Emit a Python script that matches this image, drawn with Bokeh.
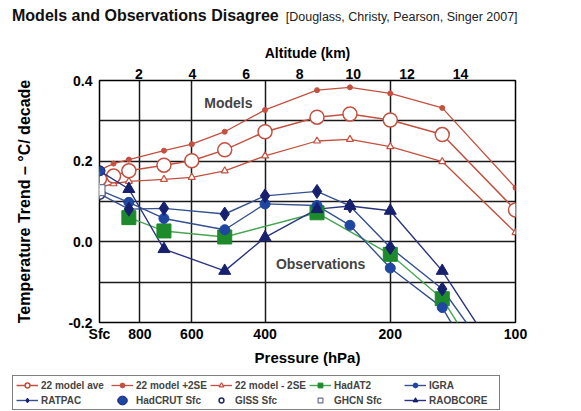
from bokeh.plotting import figure
from bokeh.layouts import column, row
from bokeh.models import (Range1d, LinearAxis, FixedTicker, Label, Legend, LegendItem,
                          LinearScale, NumeralTickFormatter, Div)
from bokeh.embed import file_html
from bokeh.resources import INLINE

# ---------------- data ----------------
# Pressure levels (hPa); the surface value is drawn at the 1000 hPa position ("Sfc")
model_p = [1000, 925, 850, 700, 600, 500, 400, 300, 250, 200, 150, 100]
model_ave = [0.156, 0.163, 0.176, 0.190, 0.201, 0.228, 0.273, 0.309, 0.317, 0.302, 0.266, 0.079]
model_hi = [0.178, 0.194, 0.204, 0.226, 0.242, 0.273, 0.327, 0.376, 0.383, 0.368, 0.332, 0.134]
model_lo = [0.135, 0.144, 0.150, 0.155, 0.160, 0.176, 0.213, 0.250, 0.254, 0.236, 0.199, 0.023]

hadat2_p = [850, 700, 500, 300, 200, 150, 100]
hadat2 = [0.060, 0.027, 0.012, 0.072, -0.031, -0.141, -0.43]

sonde_p = [1000, 850, 700, 500, 400, 300, 250, 200, 150, 100]
igra = [0.128, 0.098, 0.058, 0.030, 0.094, 0.090, 0.041, -0.065, -0.163, -0.47]
ratpac = [0.119, 0.081, 0.083, 0.069, 0.114, 0.125, 0.089, -0.014, -0.117, -0.37]
raobcore = [0.176, 0.131, -0.018, -0.072, 0.011, 0.081, 0.089, 0.077, -0.072, -0.35]

sfc_p = [1000]
hadcrut_sfc = [0.176]
giss_sfc = [0.119]
ghcn_sfc = [0.128]

pressure_ticks = [1000, 800, 600, 400, 200, 100]
pressure_labels = ["Sfc", "800", "600", "400", "200", "100"]
pressure_grid = [800, 600, 400, 200]
altitude_ticks = [2, 4, 6, 8, 10, 12, 14]
trend_ticks = [-0.2, 0.0, 0.2, 0.4]
trend_grid = [-0.1, 0.0, 0.1, 0.2, 0.3]

series_names = ["22 model ave", "22 model +2SE", "22 model - 2SE", "HadAT2", "IGRA",
                "RATPAC", "HadCRUT Sfc", "GISS Sfc", "GHCN Sfc", "RAOBCORE"]

title_text = "Models and Observations Disagree"
subtitle_text = "[Douglass, Christy, Pearson, Singer 2007]"

# ---------------- styles ----------------
FONT = "Liberation Sans"
RED = "#c4503f"
NAVY = "#16206e"
BLUE = "#1f46a0"
OBS_LINE = "#34508e"
RAOB_LINE = "#2a3480"
GREEN = "#1d8a2c"
GREEN_LINE = "#46a552"

W = 565
TITLE_H = 28
MAIN_H = 340
LEG_H = 43

header = Div(
    text=(f'<div style="font-family:\'{FONT}\';white-space:nowrap;padding:7px 0 0 12px;line-height:18px;">'
          f'<span style="font-weight:bold;font-size:16px;color:#111">{title_text}</span>'
          f'<span style="font-size:12.5px;color:#222;margin-left:7px">{subtitle_text}</span></div>'),
    width=W, height=TITLE_H, margin=(0, 0, 0, 0))

p = figure(width=W, height=MAIN_H, x_axis_type="log",
           x_range=Range1d(1000, 100), y_range=Range1d(-0.2, 0.4),
           output_backend="svg", toolbar_location=None,
           min_border_left=99, min_border_right=50, min_border_top=80 - TITLE_H, min_border_bottom=46,
           margin=(0, 0, 0, 0))
p.background_fill_color = "white"
p.border_fill_color = "white"
p.outline_line_color = "black"
p.outline_line_width = 1.5

# bottom pressure axis
xb = p.below[0]
xb.ticker = FixedTicker(ticks=pressure_ticks, minor_ticks=[])
xb.major_label_overrides = dict(zip(pressure_ticks, pressure_labels))
xb.axis_label = "Pressure (hPa)"

# left axis
yl = p.left[0]
yl.ticker = FixedTicker(ticks=trend_ticks, minor_ticks=[])
yl.formatter = NumeralTickFormatter(format="0.0")
yl.axis_label = "Temperature Trend – °C/ decade"

# top altitude axis
p.extra_x_ranges = {"alt": Range1d(0.53, 16.05)}
p.extra_x_scales = {"alt": LinearScale()}
xt = LinearAxis(x_range_name="alt", ticker=FixedTicker(ticks=altitude_ticks, minor_ticks=[]),
                axis_label="Altitude (km)")
p.add_layout(xt, "above")

for ax in (xb, yl, xt):
    ax.axis_line_color = None
    ax.major_tick_line_color = None
    ax.minor_tick_line_color = None
    ax.major_tick_out = 0
    ax.major_tick_in = 0
    ax.minor_tick_out = 0
    ax.minor_tick_in = 0
    ax.major_label_text_font = FONT
    ax.major_label_text_font_style = "bold"
    ax.major_label_text_font_size = "14px"
    ax.major_label_text_color = "black"
    ax.axis_label_text_font = FONT
    ax.axis_label_text_font_style = "bold"
    ax.axis_label_text_color = "black"

xb.major_label_standoff = 3
xb.axis_label_standoff = 4
xb.axis_label_text_font_size = "15px"
xt.major_label_standoff = 2
xt.axis_label_standoff = 5
xt.axis_label_text_font_size = "14px"
yl.major_label_standoff = 7
yl.axis_label_standoff = 32
yl.axis_label_text_font_size = "16px"

p.xgrid.ticker = FixedTicker(ticks=pressure_grid)
p.ygrid.ticker = FixedTicker(ticks=trend_grid)
for g in (p.xgrid, p.ygrid):
    g.grid_line_color = "#1a1a1a"
    g.grid_line_width = 1.5

# style table for each series: (line kwargs or None, marker kwargs or None)
styles = {
    "22 model ave": (dict(line_color=RED, line_width=1.5),
                     dict(marker="circle", size=14, fill_color="white", line_color=RED, line_width=1.5)),
    "22 model +2SE": (dict(line_color=RED, line_width=1.3),
                      dict(marker="circle", size=5, fill_color=RED, line_color=RED)),
    "22 model - 2SE": (dict(line_color=RED, line_width=1.3),
                       dict(marker="triangle", size=7, fill_color="white", line_color=RED, line_width=1.2)),
    "HadAT2": (dict(line_color=GREEN_LINE, line_width=1.4),
               dict(marker="square", size=14, fill_color=GREEN, line_color=GREEN)),
    "IGRA": (dict(line_color=OBS_LINE, line_width=1.4),
             dict(marker="circle", size=10, fill_color=BLUE, line_color=BLUE)),
    "RATPAC": (dict(line_color=OBS_LINE, line_width=1.4),
               dict(marker="diamond", size=14, fill_color=NAVY, line_color=NAVY)),
    "HadCRUT Sfc": (None, None),
    "GISS Sfc": (None, dict(marker="circle", size=11, fill_color="white", line_color="#222a5a", line_width=1.5)),
    "GHCN Sfc": (None, dict(marker="square", size=11, fill_color="white", line_color="#6a7090", line_width=1.2)),
    "RAOBCORE": (dict(line_color=RAOB_LINE, line_width=1.4),
                 dict(marker="triangle", size=12, fill_color=NAVY, line_color=NAVY)),
}
hadcrut_style = dict(width=11, height=10, width_units="screen", height_units="screen",
                     fill_color=BLUE, line_color=NAVY)

# ---------------- models ----------------
p.line(model_p, model_ave, **styles["22 model ave"][0])
p.line(model_p, model_hi, **styles["22 model +2SE"][0])
p.line(model_p, model_lo, **styles["22 model - 2SE"][0])
p.scatter(model_p, model_hi, **styles["22 model +2SE"][1])
p.scatter(model_p, model_lo, **styles["22 model - 2SE"][1])
p.scatter(model_p, model_ave, **styles["22 model ave"][1])

# ---------------- observations ----------------
p.line(hadat2_p, hadat2, **styles["HadAT2"][0])
p.line(sonde_p, igra, **styles["IGRA"][0])
p.line(sonde_p, ratpac, **styles["RATPAC"][0])
p.line(sonde_p, raobcore, **styles["RAOBCORE"][0])
p.scatter(hadat2_p, hadat2, **styles["HadAT2"][1])
p.scatter(sonde_p[1:], igra[1:], **styles["IGRA"][1])
p.scatter(sonde_p[1:], ratpac[1:], **styles["RATPAC"][1])
p.scatter(sonde_p[1:], raobcore[1:], **styles["RAOBCORE"][1])
p.scatter(sfc_p, giss_sfc, **styles["GISS Sfc"][1])
p.scatter(sfc_p, ghcn_sfc, **styles["GHCN Sfc"][1])
p.ellipse(sfc_p, hadcrut_sfc, **hadcrut_style)

# ---------------- annotations ----------------
p.add_layout(Label(x=490, y=0.345, text="Models", text_align="center", text_baseline="middle",
                   text_font=FONT, text_font_style="bold", text_font_size="14px"))
p.add_layout(Label(x=294, y=-0.054, text="Observations", text_align="center", text_baseline="middle",
                   text_font=FONT, text_font_style="bold", text_font_size="14px"))

# ---------------- legend strip (key only; proxy glyphs sit outside its view) ----------------
lg = figure(width=W, height=LEG_H, x_range=Range1d(0, 1), y_range=Range1d(0, 1),
            output_backend="svg", toolbar_location=None,
            x_axis_location=None, y_axis_location=None,
            min_border_left=0, min_border_right=0, min_border_top=0, min_border_bottom=0,
            margin=(0, 0, 0, 0))
lg.outline_line_color = None
lg.grid.visible = False
lg.background_fill_color = "white"
lg.border_fill_color = "white"
proxy_x = [-5.0, -4.0]
proxy_y = [-5.0, -4.0]
items = []
for name in series_names:
    line_kw, marker_kw = styles[name]
    rs = []
    if line_kw is not None:
        rs.append(lg.line(x=proxy_x, y=proxy_y, **line_kw))
    if marker_kw is not None:
        rs.append(lg.scatter(x=proxy_x, y=proxy_y, **marker_kw))
    if name == "HadCRUT Sfc":
        rs.append(lg.ellipse(x=proxy_x, y=proxy_y, **hadcrut_style))
    items.append(LegendItem(label=name, renderers=rs))

legend = Legend(items=items, location=(12, 1), orientation="horizontal", ncols=5,
                label_text_font=FONT, label_text_font_style="bold", label_text_font_size="10px",
                glyph_width=22, glyph_height=12, label_height=12, label_width=67,
                label_standoff=3, spacing=3,
                padding=3, margin=0, border_line_color="black", border_line_width=1,
                background_fill_color="white", background_fill_alpha=1.0)
lg.add_layout(legend, "center")

layout = column(column(header, p, spacing=0), row(lg, spacing=0), spacing=0)
open("out.html", "w").write(file_html(layout, INLINE))
